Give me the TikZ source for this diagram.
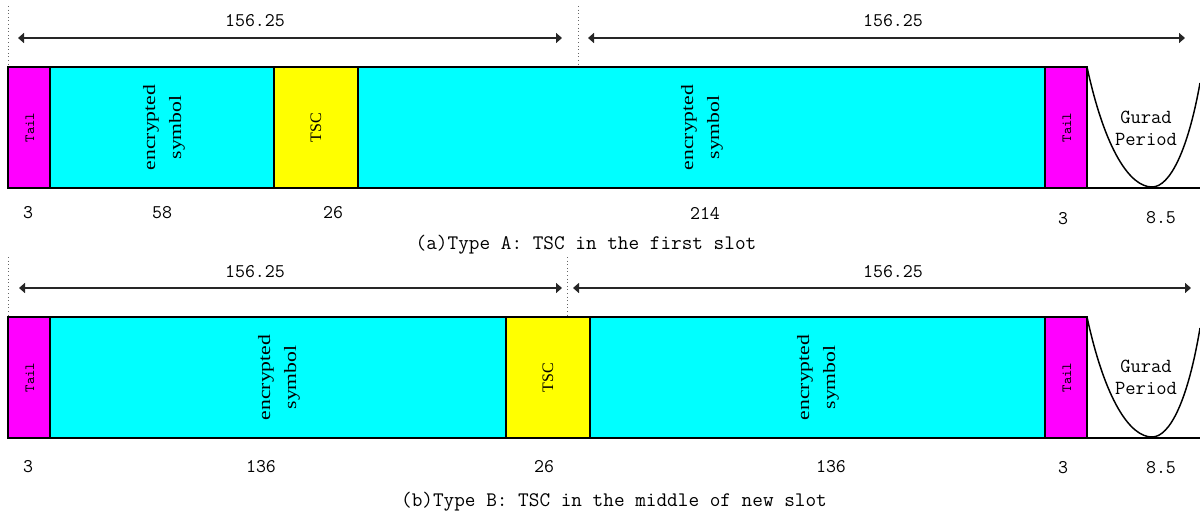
\documentclass[tikz,border=0pt]{standalone}
\usepackage{fontspec}
\setmainfont{Liberation Serif}
\usetikzlibrary{arrows.meta}
\definecolor{cyanfill}{RGB}{0,255,255}
\definecolor{magentafill}{RGB}{255,0,255}
\definecolor{yellowfill}{RGB}{255,255,0}
\begin{document}
\begin{tikzpicture}[x=0.75pt,y=-0.75pt,
  seg/.style={draw=black, line width=1.1pt},
  tailbox/.style={seg, fill=magentafill},
  symbox/.style={seg, fill=cyanfill},
  tscbox/.style={seg, fill=yellowfill},
  dimarrow/.style={draw=black!85, line width=1.1pt, {Triangle[length=4.5pt,width=7.5pt]}-{Triangle[length=4.5pt,width=7.5pt]}},
  guide/.style={draw=black!60, dotted, line width=0.7pt},
  lab/.style={font=\ttfamily\fontsize{14.5}{17}\selectfont, inner sep=0pt},
  caplab/.style={font=\ttfamily\fontsize{15.5}{17}\selectfont, inner sep=0pt},
  taillab/.style={font=\ttfamily\fontsize{10.5}{12}\selectfont, rotate=90, inner sep=0pt},
  symlab/.style={font=\fontsize{13}{19.5}\selectfont, align=center, rotate=90, xscale=1.25, inner sep=0pt},
  tsclab/.style={font=\fontsize{12}{14}\selectfont, rotate=90, inner sep=0pt},
  gplab/.style={font=\ttfamily\fontsize{15}{16.5}\selectfont, align=center, inner sep=0pt}
]
\useasboundingbox (0,0) rectangle (1200,517);

% ---------------- Row (a) ----------------
\coordinate (ga1t) at (8,6);   \coordinate (ga1b) at (8,66);
\coordinate (ga2t) at (578,6); \coordinate (ga2b) at (578,66);
\draw[guide] (ga1t) -- (ga1b);
\draw[guide] (ga2t) -- (ga2b);
\coordinate (aa1) at (18,38);  \coordinate (aa2) at (562,38);
\coordinate (aa3) at (588,38); \coordinate (aa4) at (1185,38);
\draw[dimarrow] (aa1) -- (aa2);
\draw[dimarrow] (aa3) -- (aa4);
\node[lab] (da1) at (255,21) {156.25};
\node[lab] (da2) at (893,21) {156.25};

\path[tailbox] (8,67) rectangle (50,188);
\path[symbox] (50,67) rectangle (274,188);
\path[tscbox] (274,67) rectangle (358,188);
\path[symbox] (358,67) rectangle (1045,188);
\path[tailbox] (1045,67) rectangle (1087,188);
\node[taillab] (ta1) at (30,127.5) {Tail};
\node[symlab] (sa1) at (164,127.5) {encrypted\\symbol};
\node[tsclab] (ca1) at (316,127.5) {TSC};
\node[symlab] (sa2) at (702,127.5) {encrypted\\symbol};
\node[taillab] (ta2) at (1067,127.5) {Tail};
\draw[seg] (1087,67) .. controls (1105,150) and (1130,187) .. (1152,187)
  .. controls (1170,187) and (1188,150) .. (1200,83);
\draw[seg] (1087,188) -- (1200,188);
\node[gplab] (gpa) at (1146,128) {Gurad\\Period};

\node[lab] (na1) at (28,213) {3};
\node[lab] (na2) at (162,213) {58};
\node[lab] (na3) at (333,213) {26};
\node[lab] (na4) at (705,213) {214};
\node[lab] (na5) at (1063,219) {3};
\node[lab] (na6) at (1161,218) {8.5};
\node[caplab] (capa) at (586,245) {(a)Type A: TSC in the first slot};

% ---------------- Row (b) ----------------
\coordinate (gb1t) at (8,257);   \coordinate (gb1b) at (8,316);
\coordinate (gb2t) at (567,257); \coordinate (gb2b) at (567,318);
\draw[guide] (gb1t) -- (gb1b);
\draw[guide] (gb2t) -- (gb2b);
\coordinate (ab1) at (19,288);  \coordinate (ab2) at (562,288);
\coordinate (ab3) at (573,288); \coordinate (ab4) at (1191,288);
\draw[dimarrow] (ab1) -- (ab2);
\draw[dimarrow] (ab3) -- (ab4);
\node[lab] (db1) at (255,272) {156.25};
\node[lab] (db2) at (893,272) {156.25};

\path[tailbox] (8,317) rectangle (50,438);
\path[symbox] (50,317) rectangle (506,438);
\path[tscbox] (506,317) rectangle (590,438);
\path[symbox] (590,317) rectangle (1045,438);
\path[tailbox] (1045,317) rectangle (1087,438);
\node[taillab] (tb1) at (30,377.5) {Tail};
\node[symlab] (sb1) at (279,377.5) {encrypted\\symbol};
\node[tsclab] (cb1) at (548,377.5) {TSC};
\node[symlab] (sb2) at (818,377.5) {encrypted\\symbol};
\node[taillab] (tb2) at (1067,377.5) {Tail};
\draw[seg] (1087,317) .. controls (1105,400) and (1130,437) .. (1152,437)
  .. controls (1170,437) and (1188,400) .. (1200,328);
\draw[seg] (1087,438) -- (1200,438);
\node[gplab] (gpb) at (1146,377) {Gurad\\Period};

\node[lab] (nb1) at (28,467) {3};
\node[lab] (nb2) at (261,467) {136};
\node[lab] (nb3) at (544,467) {26};
\node[lab] (nb4) at (831,467) {136};
\node[lab] (nb5) at (1063,468) {3};
\node[lab] (nb6) at (1161,468) {8.5};
\node[caplab] (capb) at (614,502) {(b)Type B: TSC in the middle of new slot};
\end{tikzpicture}
\end{document}
